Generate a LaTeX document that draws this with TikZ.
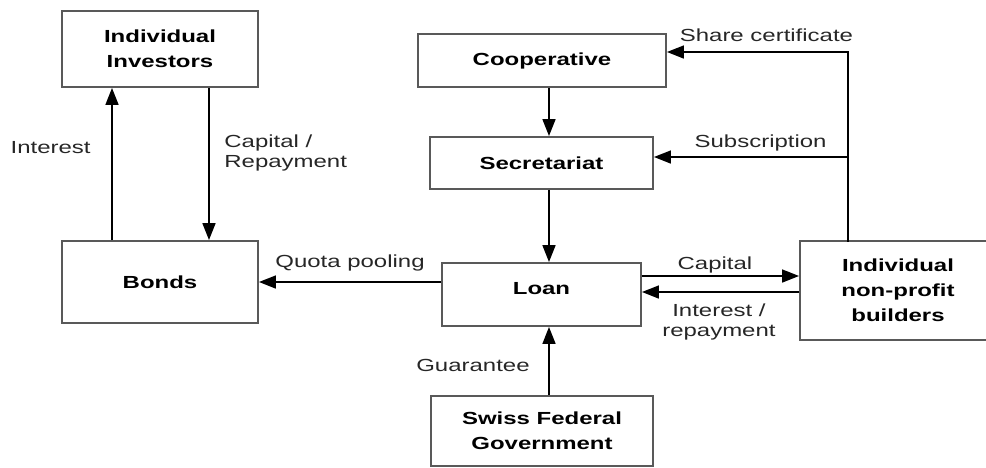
\documentclass[tikz,border=0pt]{standalone}
\usepackage{fontspec}
\setmainfont{Liberation Sans}[FakeStretch=1.37]
\usetikzlibrary{arrows.meta}

\begin{document}
\begin{tikzpicture}[x=1pt,y=-1pt,
    box/.style={draw=black!65, line width=1.6pt, inner sep=0pt, align=center, font=\fontsize{17.5}{25}\selectfont\bfseries},
    flow/.style={line width=2.8pt, -{Triangle[length=17pt,width=12.5pt]}},
    lbl/.style={inner sep=0pt, font=\fontsize{17.5}{20}\selectfont, text=black!85}]
    \useasboundingbox(0,0)rectangle(986,467);

    \node[box, minimum width=196pt, minimum height=76pt](inv)at(160,49){Individual\\Investors};
    \node[box, minimum width=196pt, minimum height=82pt](bonds)at(160,282){Bonds};
    \node[box, minimum width=248pt, minimum height=53pt](coop)at(542,60.5){Cooperative};
    \node[box, minimum width=223pt, minimum height=52pt](sec)at(541.5,163){Secretariat};
    \node[box, minimum width=199pt, minimum height=63pt, text depth=12pt](loan)at(541.5,294.5){Loan};
    \node[box, minimum width=196pt, minimum height=99pt](builders)at(898,290.5){Individual\\non-profit\\builders};
    \node[box, minimum width=222pt, minimum height=70pt](gov)at(542,431){Swiss Federal\\Government};

    \coordinate(upX)at(112,0);
    \coordinate(downX)at(209,0);
    \coordinate(spine)at(549,0);
    \coordinate(shareY)at(848,52);
    \coordinate(subY)at(848,157);
    \coordinate(capY)at(0,276);
    \coordinate(intY)at(0,292);

    % investors and bonds
    \draw[flow](bonds.north-|upX)--node[lbl,pos=0.61,anchor=east,xshift=-20pt](interestlbl){Interest}(inv.south-|upX);
    \draw[flow](inv.south-|downX)--node[lbl,pos=0.43,anchor=west,xshift=14pt,align=left](caplbl){Capital /\\Repayment}(bonds.north-|downX);
    \draw[flow](loan.west|-bonds)--node[lbl,yshift=19pt](quotalbl){Quota pooling}(bonds.east);

    % middle column
    \draw[flow](coop.south-|spine)--(sec.north-|spine);
    \draw[flow](sec.south-|spine)--(loan.north-|spine);
    \draw[flow](gov.north-|spine)--node[lbl,pos=0.43,anchor=east,xshift=-18pt](guarlbl){Guarantee}(loan.south-|spine);

    % builders
    \draw[line width=2.8pt, line cap=rect](builders.north-|shareY)--(shareY);
    \draw[flow](shareY)--node[lbl,pos=0.45,yshift=17pt](sharelbl){Share certificate}(coop.east|-shareY);
    \draw[flow](subY)--node[lbl,pos=0.45,yshift=14pt](sublbl){Subscription}(sec.east|-subY);
    \draw[flow](loan.east|-capY)--node[lbl,pos=0.465,yshift=11pt](capitallbl){Capital}(builders.west|-capY);
    \draw[flow](builders.west|-intY)--node[lbl,pos=0.51,yshift=-29.5pt,align=center](replbl){Interest /\\repayment}(loan.east|-intY);
\end{tikzpicture}
\end{document}
